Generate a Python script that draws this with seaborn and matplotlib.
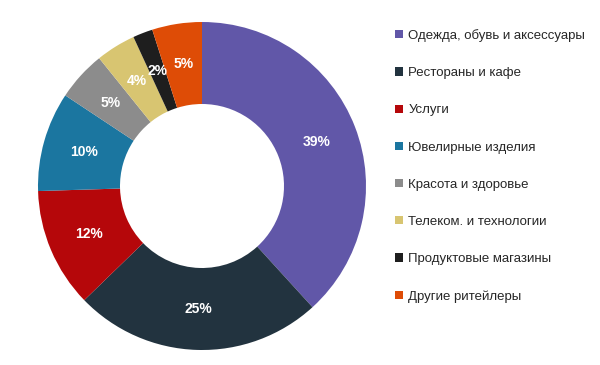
import matplotlib
matplotlib.use("Agg")
import matplotlib.pyplot as plt
import seaborn as sns
import numpy as np
from matplotlib.patches import Patch

categories = ["Одежда, обувь и аксессуары", "Рестораны и кафе", "Услуги",
              "Ювелирные изделия", "Красота и здоровье", "Телеком. и технологии",
              "Продуктовые магазины", "Другие ритейлеры"]
values = [39, 25, 12, 10, 5, 4, 2, 5]
labels = ["39%", "25%", "12%", "10%", "5%", "4%", "2%", "5%"]
colors = ["#6157A8", "#22333F", "#B5070A", "#1B76A0", "#8C8C8C", "#D8C571", "#1E1E1E", "#DE4C06"]

sns.set_theme(style="white")
plt.rcParams['font.family'] = ['Liberation Sans', 'DejaVu Sans']
palette = sns.color_palette(colors)

fig = plt.figure(figsize=(6, 3.65), dpi=100)
size_px = 328
cx, cy = 202, 365 - 186
ax = fig.add_axes([(cx - size_px / 2) / 600, (cy - size_px / 2) / 365, size_px / 600, size_px / 365])

wedges, _ = ax.pie(values, colors=palette, startangle=90, counterclock=False,
                   wedgeprops=dict(width=0.5, edgecolor="none"))
for w, lab in zip(wedges, labels):
    ang = np.deg2rad((w.theta1 + w.theta2) / 2)
    r = 0.75
    ax.text(r * np.cos(ang), r * np.sin(ang), lab, ha="center", va="center",
            color="white", fontsize=10, fontweight="bold")
ax.set_xlim(-1, 1)
ax.set_ylim(-1, 1)
ax.set_aspect("equal")
ax.axis("off")

handles = [Patch(facecolor=c, edgecolor="none") for c in palette]
fig.legend(handles, categories, loc="upper left", bbox_to_anchor=(395 / 600, 1 - 29 / 365),
           frameon=False, fontsize=9.5, handlelength=0.6, handleheight=0.6,
           handletextpad=0.4, labelspacing=1.91, borderaxespad=0, borderpad=0)

fig.savefig("out.png", dpi=100)
